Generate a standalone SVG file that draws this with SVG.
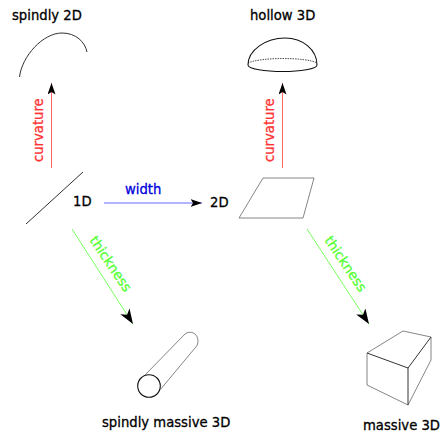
<svg xmlns="http://www.w3.org/2000/svg" width="441" height="435" viewBox="0 0 441 435">
<style>
text{font-family:"DejaVu Sans",sans-serif;font-size:13.2px;stroke-width:.3px}
.l{fill:#000;stroke:#000}
.r{fill:#f33;stroke:#f33}
.g{fill:#5f3;stroke:#5f3;font-size:13.500px}
.u{fill:#00d;stroke:#00d}
.s{fill:none;stroke:#333;stroke-width:1}
.t{fill:none;stroke:#666;stroke-width:.8}
.d{fill:none;stroke:#111;stroke-width:1.1}
</style>
<defs>
<marker id="a" markerUnits="userSpaceOnUse" markerWidth="17" markerHeight="12" refX="15" refY="5.500" orient="auto"><path d="M0 0L15 5.500L0 11L4 5.500Z" fill="#000"/></marker>
<marker id="b" markerUnits="userSpaceOnUse" markerWidth="13" markerHeight="10" refX="11.500" refY="4" orient="auto"><path d="M0 0L11.500 4L0 8L2.500 4Z" fill="#000"/></marker>
</defs>
<g id="connectors" fill="none">
<path d="M51.500 168V83" stroke="#f55" stroke-width=".9" marker-end="url(#b)"/>
<path d="M282.500 168V83" stroke="#f55" stroke-width=".9" marker-end="url(#b)"/>
<path d="M104 203H202" stroke="#55f" stroke-width=".9" marker-end="url(#b)"/>
<path d="M72 229L133 324" stroke="#5f3" stroke-width=".8" marker-end="url(#a)"/>
<path d="M307 229L369 324" stroke="#5f3" stroke-width=".8" marker-end="url(#a)"/>
<text class="r" transform="translate(42.500 162) rotate(-90)">curvature</text>
<text class="r" transform="translate(273.500 162) rotate(-90)">curvature</text>
<text class="u" x="125" y="194">width</text>
<text class="g" transform="translate(89 240) rotate(56)">thickness</text>
<text class="g" transform="translate(324 240) rotate(56)">thickness</text>
</g>
<g id="spindly2d"><path class="s" d="M19.500 77C22 56 43 33 62 33C76 33 85 42 87 52"/><text class="l" x="12" y="20">spindly 2D</text></g>
<g id="line1d"><path class="s" d="M83 172L26 224"/><text class="l" x="73" y="206">1D</text></g>
<g id="plane2d"><path class="t" d="M263 178H314L303 218H239Z"/><text class="l" x="210" y="207">2D</text></g>
<g id="hollow3d"><path class="d" d="M248 65C248 50 266 38 285 38C303 38 317 50 317 65C317 69 300 71.500 283 71.500C265 71.500 248 69 248 65Z"/><path d="M248 63C254 60 270 58.500 283 58.500C297 58.500 312 60 317 63" fill="none" stroke="#222" stroke-width=".8" stroke-dasharray="1.500 1"/><text class="l" x="250" y="20">hollow 3D</text></g>
<g id="cylinder"><circle class="d" cx="149" cy="386" r="11.300"/><path class="t" d="M145 375L185 334C190 330 198 333 198 341C198 344 197 346 195 348L160 390"/><text class="l" x="102" y="427">spindly massive 3D</text></g>
<g id="box"><path class="t" d="M367 353V385L408 405L431 360V337L403 331L367 353"/><path class="s" d="M367 353L408 368L431 337M408 368V405"/><text class="l" x="363" y="430">massive 3D</text></g>
</svg>
